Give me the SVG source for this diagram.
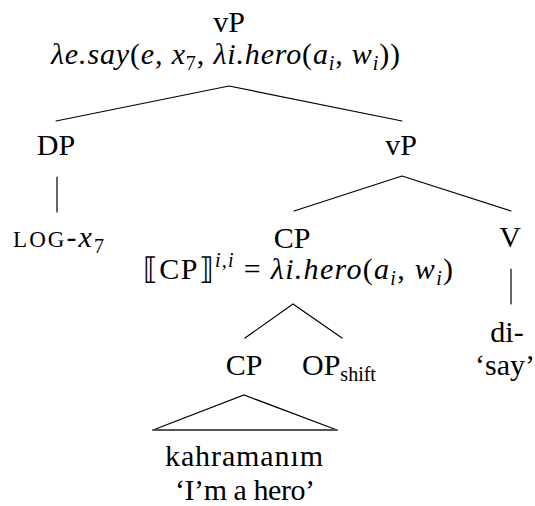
<svg xmlns="http://www.w3.org/2000/svg" width="535" height="506" viewBox="0 0 535 506" font-family="'Liberation Serif', 'Times New Roman', Tinos, 'Noto Serif', 'DejaVu Serif', Georgia, serif">
  <style>
    text { font-family: 'Liberation Serif', 'Times New Roman', Tinos, 'Noto Serif', 'DejaVu Serif', Georgia, serif; font-size: 30px; fill: #000; }
    .math { font-style: italic; }
    .up { font-style: normal; }
    .sub { font-size: 20px; }
    .sc { font-size: 23px; }
    .edge { stroke: #000; stroke-width: 1.2; fill: none; stroke-linecap: round; }
    .base { stroke: #555; stroke-width: 1.8; }
  </style>
  <rect width="535" height="506" fill="#fff"/>

  <!-- tree branches -->
  <g id="connectors">
    <path class="edge" d="M229 86 L56 121 M229 86 L402 121"/>
    <path class="edge" d="M57 177 L57 212"/>
    <path class="edge" d="M402 176 L294 211 M402 176 L511 211"/>
    <path class="edge" d="M511 269 L511 304"/>
    <path class="edge" d="M293 304 L245 338 M293 304 L342 338"/>
    <path class="edge" d="M153 430 L244 395 L337 430"/>
    <path class="edge base" d="M153 430 L337 430"/>
  </g>

  <g id="vP-root">
    <text x="229" y="32" text-anchor="middle">vP</text>
    <text class="math" x="51" y="64" textLength="349" lengthAdjust="spacing">λe.say<tspan class="up">(</tspan>e<tspan class="up">, </tspan>x<tspan class="sub up" dy="6">7</tspan><tspan class="up" dy="-6">, </tspan>λi.hero<tspan class="up">(</tspan>a<tspan class="sub" dy="6">i</tspan><tspan class="up" dy="-6">, </tspan>w<tspan class="sub" dy="6">i</tspan><tspan class="up" dy="-6">))</tspan></text>
  </g>

  <g id="DP">
    <text x="56" y="155" text-anchor="middle">DP</text>
  </g>

  <g id="LOG">
    <text x="13" y="247" textLength="91" lengthAdjust="spacing"><tspan class="sc">LOG</tspan>-<tspan class="math">x</tspan><tspan class="sub" dy="6">7</tspan></text>
  </g>

  <g id="vP-inner">
    <text x="401" y="155" text-anchor="middle">vP</text>
  </g>

  <g id="CP-upper">
    <text x="292" y="248" text-anchor="middle">CP</text>
    <text x="143" y="279" textLength="310" lengthAdjust="spacing">⟦CP⟧<tspan class="sub math" dy="-12">i,i</tspan><tspan dy="12"> = </tspan><tspan class="math">λi.hero</tspan>(<tspan class="math">a</tspan><tspan class="sub math" dy="6">i</tspan><tspan dy="-6">, </tspan><tspan class="math">w</tspan><tspan class="sub math" dy="6">i</tspan><tspan dy="-6">)</tspan></text>
  </g>

  <g id="V">
    <text x="510" y="247" text-anchor="middle">V</text>
  </g>

  <g id="di">
    <text x="507" y="342" text-anchor="middle">di-</text>
    <text x="505" y="375" text-anchor="middle">‘say’</text>
  </g>

  <g id="CP-lower">
    <text x="244" y="375" text-anchor="middle">CP</text>
  </g>

  <g id="OP-shift">
    <text x="302" y="375">OP<tspan class="sub" dy="6">shift</tspan></text>
  </g>

  <g id="kahramanim">
    <text x="165" y="466" textLength="158" lengthAdjust="spacing">kahramanım</text>
    <text x="175" y="500" textLength="140" lengthAdjust="spacing">‘I’m a hero’</text>
  </g>
</svg>
